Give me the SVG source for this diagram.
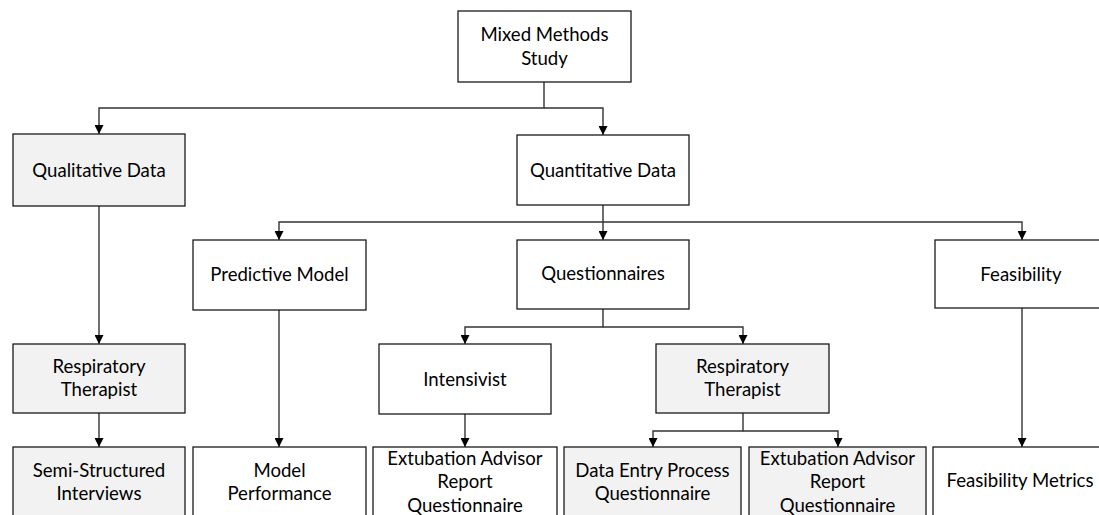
<svg xmlns="http://www.w3.org/2000/svg" width="1099" height="515" viewBox="0 0 1099 515">
<defs>
<marker id="arr" markerUnits="userSpaceOnUse" markerWidth="9" markerHeight="9" refX="9" refY="4.5" orient="auto">
<path d="M0,0 L9,4.5 L0,9 z" fill="#000"/>
</marker>
<style>
.box{stroke:#1a1a1a;stroke-width:1.3;fill:#fff}
.g{fill:#f2f2f2}
.t{font-family:Lato,"Liberation Sans",sans-serif;font-size:18.6px;fill:#000;text-anchor:middle}
.c{fill:none;stroke:#333;stroke-width:1.4;marker-end:url(#arr)}
</style>
</defs>
<rect width="1099" height="515" fill="#fff"/>
<g id="connectors">
<path class="c" d="M544,82 V108 H99 V134"/>
<path class="c" d="M544,108 H603 V135"/>
<path class="c" d="M99,206 V344"/>
<path class="c" d="M99,413 V447"/>
<path class="c" d="M603,205 V222 H279 V240"/>
<path class="c" d="M603,222 V240"/>
<path class="c" d="M603,222 H1022 V240"/>
<path class="c" d="M279,310 V447"/>
<path class="c" d="M603,309 V327 H465 V344"/>
<path class="c" d="M603,327 H743 V344"/>
<path class="c" d="M465,414 V447"/>
<path class="c" d="M743,413 V431 H653 V447"/>
<path class="c" d="M743,431 H838 V447"/>
<path class="c" d="M1022,308 V447"/>
</g>
<g id="mixed"><rect class="box" x="458" y="11" width="173" height="71"/><text class="t" x="544.5" y="41">Mixed Methods</text><text class="t" x="544.5" y="65">Study</text></g>
<g id="qualitative"><rect class="box g" x="13" y="134" width="172" height="72"/><text class="t" x="99" y="177">Qualitative Data</text></g>
<g id="quantitative"><rect class="box" x="517" y="135" width="172" height="70"/><text class="t" x="603" y="177">Quantitative Data</text></g>
<g id="predictive"><rect class="box" x="193" y="240" width="173" height="70"/><text class="t" x="279.5" y="281">Predictive Model</text></g>
<g id="questionnaires"><rect class="box" x="517" y="240" width="172" height="69"/><text class="t" x="603" y="280">Questionnaires</text></g>
<g id="feasibility"><rect class="box" x="935" y="240" width="176" height="68"/><text class="t" x="1021" y="281">Feasibility</text></g>
<g id="rt1"><rect class="box g" x="13" y="344" width="172" height="69"/><text class="t" x="99" y="373">Respiratory</text><text class="t" x="99" y="396">Therapist</text></g>
<g id="intensivist"><rect class="box" x="379" y="344" width="172" height="70"/><text class="t" x="465" y="386">Intensivist</text></g>
<g id="rt2"><rect class="box g" x="656" y="344" width="173" height="69"/><text class="t" x="742.5" y="373">Respiratory</text><text class="t" x="742.5" y="396">Therapist</text></g>
<g id="semi"><rect class="box g" x="13" y="447" width="172" height="80"/><text class="t" x="99" y="477">Semi-Structured</text><text class="t" x="99" y="500">Interviews</text></g>
<g id="modelperf"><rect class="box" x="193" y="447" width="173" height="80"/><text class="t" x="279.5" y="477">Model</text><text class="t" x="279.5" y="500">Performance</text></g>
<g id="ext1"><rect class="box" x="373" y="447" width="184" height="80"/><text class="t" x="465" y="465">Extubation Advisor</text><text class="t" x="465" y="488">Report</text><text class="t" x="465" y="512">Questionnaire</text></g>
<g id="dataentry"><rect class="box g" x="564" y="447" width="177" height="80"/><text class="t" x="652.5" y="477">Data Entry Process</text><text class="t" x="652.5" y="500">Questionnaire</text></g>
<g id="ext2"><rect class="box g" x="749" y="447" width="177" height="80"/><text class="t" x="837.5" y="465">Extubation Advisor</text><text class="t" x="837.5" y="488">Report</text><text class="t" x="837.5" y="512">Questionnaire</text></g>
<g id="feasmetrics"><rect class="box" x="933" y="447" width="178" height="80"/><text class="t" x="1020" y="487">Feasibility Metrics</text></g>
</svg>
